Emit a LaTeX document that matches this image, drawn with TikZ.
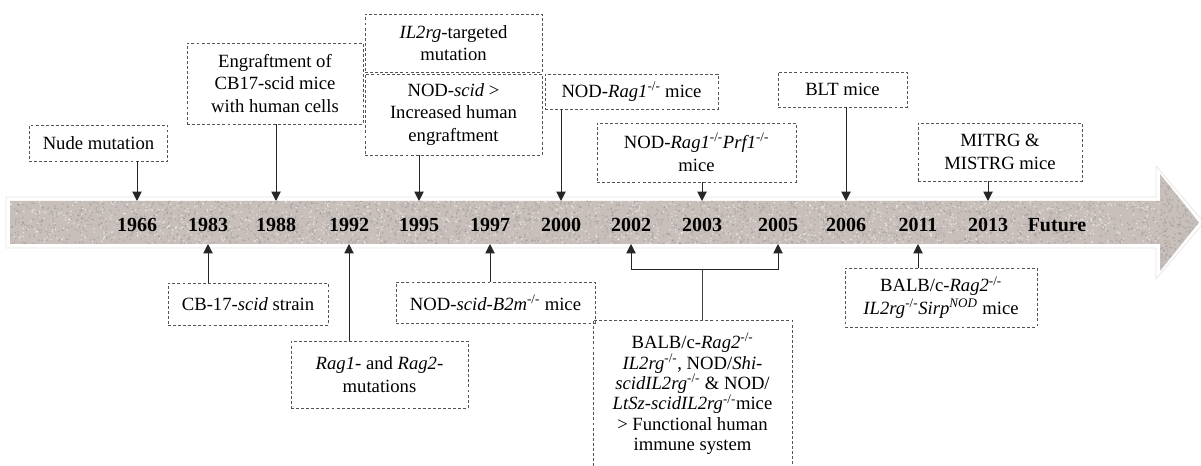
\documentclass[tikz,border=0pt]{standalone}
\usepackage{fontspec}
\setmainfont{Liberation Serif}
\usetikzlibrary{arrows.meta}
\definecolor{bandc}{RGB}{200,191,186}
\definecolor{boxc}{RGB}{85,85,85}
\begin{document}
\begin{tikzpicture}[x=0.75pt,y=-0.75pt,
  box/.style={draw=boxc, dash pattern=on 2.2pt off 1.6pt, line width=0.7pt, align=center, inner sep=0pt, font=\rmfamily\fontsize{14}{17}\selectfont},
  yr/.style={font=\rmfamily\fontsize{15}{18}\selectfont\bfseries, inner sep=0pt},
  arr/.style={draw=black!85, line width=0.75pt, -{Triangle[width=7pt,length=7pt]}},
  ln/.style={draw=black!75, line width=0.75pt}]
\useasboundingbox (0,0) rectangle (1201,466);

% timeline band
\path[draw=black!10, line width=0.5pt, fill=white] (6,197) -- (1156,197) -- (1156,166) -- (1204,222.5) -- (1156,279) -- (1156,248) -- (6,248) -- cycle;
\path[fill=bandc] (10,201) -- (1160,201) -- (1160,174) -- (1199,222.5) -- (1160,271) -- (1160,244) -- (10,244) -- cycle;
\begin{scope}
\clip (10,201) -- (1160,201) -- (1160,174) -- (1199,222.5) -- (1160,271) -- (1160,244) -- (10,244) -- cycle;
\pgfmathsetseed{7}
\foreach \i in {1,...,2600}{
  \pgfmathsetmacro\rx{10+1150*rnd}
  \pgfmathsetmacro\ry{201+43*rnd}
  \fill[black!45, opacity=0.45] (\rx,\ry) circle[radius=0.9];
}
\foreach \i in {1,...,1400}{
  \pgfmathsetmacro\rx{10+1150*rnd}
  \pgfmathsetmacro\ry{201+43*rnd}
  \fill[white, opacity=0.5] (\rx,\ry) circle[radius=0.9];
}
\foreach \i in {1,...,300}{
  \pgfmathsetmacro\rx{1160+40*rnd}
  \pgfmathsetmacro\ry{174+97*rnd}
  \fill[black!45, opacity=0.45] (\rx,\ry) circle[radius=0.9];
}
\end{scope}

\coordinate (bt) at (0,201);
\coordinate (bb) at (0,244);
\coordinate (brk) at (0,270);

% years
\node[yr] (y1966) at (137,225) {1966};
\node[yr] (y1983) at (208,225) {1983};
\node[yr] (y1988) at (276,225) {1988};
\node[yr] (y1992) at (349,225) {1992};
\node[yr] (y1995) at (419,225) {1995};
\node[yr] (y1997) at (490,225) {1997};
\node[yr] (y2000) at (561,225) {2000};
\node[yr] (y2002) at (631,225) {2002};
\node[yr] (y2003) at (702,225) {2003};
\node[yr] (y2005) at (778,225) {2005};
\node[yr] (y2006) at (846,225) {2006};
\node[yr] (y2011) at (918,225) {2011};
\node[yr] (y2013) at (988,225) {2013};
\node[yr] (yfut) at (1057,225) {Future};

% boxes above
\node[box, minimum width=104pt, minimum height=27pt] (nude) at (98.5,143) {Nude mutation};
\node[box, minimum width=132pt, minimum height=60.75pt] (engr) at (275,83.5) {Engraftment of\\CB17-scid mice\\with human cells};
\node[box, minimum width=132.75pt, minimum height=43.5pt] (il2rg) at (453.5,43) {\textit{IL2rg}-targeted\\mutation};
\node[box, minimum width=132.75pt, minimum height=60.75pt] (nodscid) at (453.5,114.5) {NOD-\textit{scid} >\\Increased human\\engraftment};
\node[box, minimum width=129.75pt, minimum height=26.25pt] (rag1) at (631.5,91.5) {NOD-\textit{Rag1}\textsuperscript{-/-} mice};
\node[box, minimum width=149.25pt, minimum height=44.25pt] (prf1) at (696.5,152.5) {NOD-\textit{Rag1}\textsuperscript{-/-}\textit{Prf1}\textsuperscript{-/-}\\mice};
\node[box, minimum width=96.75pt, minimum height=26.25pt] (blt) at (842.5,89.5) {BLT mice};
\node[box, minimum width=123pt, minimum height=43.5pt] (mitrg) at (1000,152) {MITRG \&\\MISTRG mice};

% boxes below
\node[box, minimum width=120pt, minimum height=31.5pt] (cb17) at (248,304) {CB-17-\textit{scid} strain};
\node[box, minimum width=132.75pt, minimum height=50.25pt] (ragmut) at (379.5,374.5) {\textit{Rag1}- and \textit{Rag2}-\\mutations};
\node[box, minimum width=149.25pt, minimum height=30.75pt] (b2m) at (495.5,302.5) {NOD-\textit{scid-B2m}\textsuperscript{-/-} mice};
\node[box, minimum width=149.25pt, minimum height=111pt, font=\rmfamily\fontsize{14}{15.3}\selectfont] (balb) at (692.5,394) {BALB/c-\textit{Rag2}\textsuperscript{-/-}\\\textit{IL2rg}\textsuperscript{-/-}, NOD/\textit{Shi-}\\\textit{scidIL2rg}\textsuperscript{-/-} \& NOD/\\\textit{LtSz-scidIL2rg}\textsuperscript{-/-}mice\\> Functional human\\immune system};
\node[box, minimum width=144pt, minimum height=44.25pt] (sirp) at (941,297.5) {BALB/c-\textit{Rag2}\textsuperscript{-/-}\\\textit{IL2rg}\textsuperscript{-/-}\textit{Sirp}\textsuperscript{\textit{NOD}} mice};

% connectors above
\draw[arr] (nude.south -| y1966) -- (y1966 |- bt);
\draw[arr] (engr.south -| y1988) -- (y1988 |- bt);
\draw[arr] (nodscid.south -| y1995) -- (y1995 |- bt);
\draw[arr] (rag1.south -| y2000) -- (y2000 |- bt);
\draw[arr] (prf1.south -| y2003) -- (y2003 |- bt);
\draw[arr] (blt.south -| y2006) -- (y2006 |- bt);
\draw[arr] (mitrg.south -| y2013) -- (y2013 |- bt);

% connectors below
\draw[arr] (cb17.north -| y1983) -- (y1983 |- bb);
\draw[arr] (ragmut.north -| y1992) -- (y1992 |- bb);
\draw[arr] (b2m.north -| y1997) -- (y1997 |- bb);
\draw[arr] (sirp.north -| y2011) -- (y2011 |- bb);
\draw[ln] (balb.north -| y2003) -- (y2003 |- brk);
\draw[arr] (y2003 |- brk) -| (y2002 |- bb);
\draw[arr] (y2003 |- brk) -| (y2005 |- bb);
\end{tikzpicture}
\end{document}
